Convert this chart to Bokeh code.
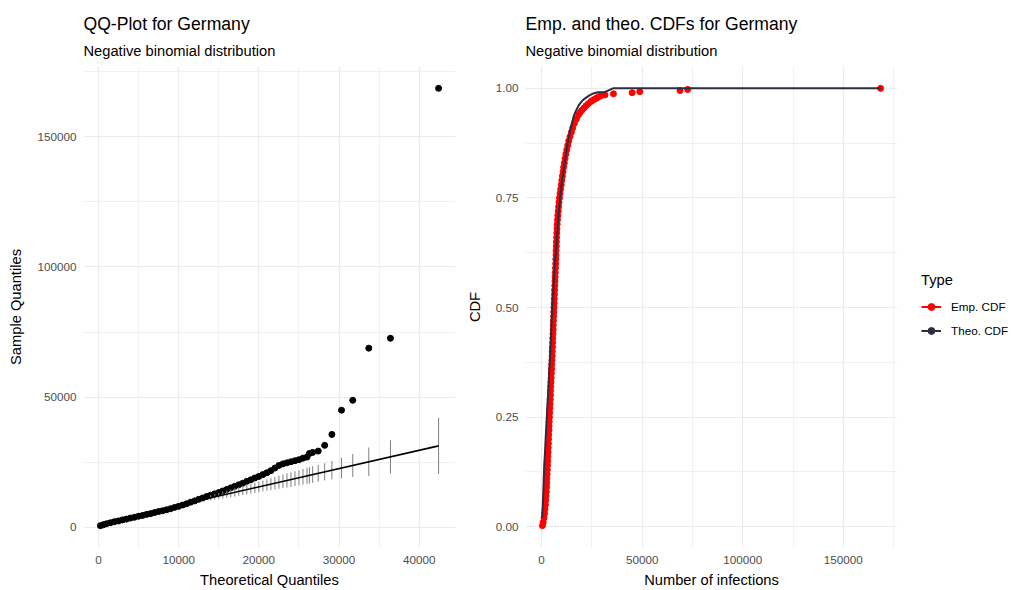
from bokeh.plotting import figure
from bokeh.models import (Range1d, FixedTicker, NumeralTickFormatter, Title,
                          Legend, LegendItem)
from bokeh.layouts import row
from bokeh.embed import file_html
from bokeh.resources import INLINE

FONT = "Liberation Sans"

# ---------------- QQ plot data ----------------
qq_theo = [250, 600, 1000, 1500, 2000, 2500, 3000, 3500, 4000, 4500, 5000, 5500,
           6000, 6500, 7000, 7500, 8000, 8500, 9000, 9500, 10000, 10500, 11000,
           11500, 12000, 12500, 13000, 13500, 14000, 14500, 15000, 15500, 16000,
           16500, 17000, 17500, 18000, 18500, 19000, 19500, 20000, 20500, 21000,
           21500, 22000, 22500, 23000, 23500, 24000, 24500, 25000, 25500, 26000,
           26300, 26700, 27400, 28200, 29100, 30300, 31700, 33700, 36400, 42400]
qq_sample = [700, 1000, 1400, 1800, 2200, 2500, 2900, 3200, 3600, 3900, 4300, 4600,
             5000, 5300, 5700, 6100, 6400, 6800, 7200, 7700, 8100, 8600, 9100,
             9700, 10200, 10800, 11300, 11900, 12400, 12900, 13400, 14000, 14600,
             15200, 15800, 16400, 17000, 17700, 18300, 19000, 19600, 20300, 21000,
             21800, 22800, 23800, 24400, 24800, 25200, 25600, 26000, 26600, 27000,
             28400, 28800, 29300, 31500, 35700, 45000, 48800, 68800, 72600, 168500]

qq_line_x = [250, 42400]
qq_line_y = [1715, 31305]

err_theo = [14000, 14500, 15000, 15500, 16000, 16500, 17000, 17500, 18000, 18500,
            19000, 19500, 20000, 20500, 21000, 21500, 22000, 22500, 23000, 23500,
            24000, 24500, 25000, 25500, 26000, 26300, 26700, 27400, 28200, 29100,
            30300, 31700, 33700, 36400, 42400]
err_lo = [10370, 10620, 10870, 11120, 11370, 11620, 11870, 12130, 12380, 12680,
          12980, 13280, 13580, 13830, 14080, 14330, 14580, 14840, 15090, 15340,
          15590, 15890, 16190, 16440, 16690, 16850, 17080, 17530, 18040, 18470,
          18810, 19390, 19700, 20690, 20500]
err_hi = [12370, 12820, 13270, 13720, 14170, 14620, 15070, 15530, 15980, 16380,
          16780, 17180, 17580, 18030, 18480, 18930, 19380, 19840, 20290, 20740,
          21190, 21590, 21990, 22440, 22890, 23150, 23480, 24030, 24640, 25470,
          26810, 28190, 30700, 33490, 42100]

# ---------------- CDF plot data ----------------
ecdf_y = [0.0025, 0.01, 0.02, 0.03, 0.04, 0.05, 0.06, 0.07, 0.08, 0.09, 0.10,
          0.11, 0.12, 0.13, 0.14, 0.15, 0.16, 0.17, 0.18, 0.19, 0.20, 0.21, 0.22,
          0.23, 0.24, 0.25, 0.26, 0.27, 0.28, 0.29, 0.30, 0.31, 0.32, 0.33, 0.34,
          0.35, 0.36, 0.37, 0.38, 0.39, 0.40, 0.41, 0.42, 0.43, 0.44, 0.45, 0.46,
          0.47, 0.48, 0.49, 0.50, 0.51, 0.52, 0.53, 0.54, 0.55, 0.56, 0.57, 0.58,
          0.59, 0.60, 0.61, 0.62, 0.63, 0.64, 0.65, 0.66, 0.67, 0.68, 0.69, 0.70,
          0.71, 0.72, 0.73, 0.74, 0.75, 0.76, 0.77, 0.78, 0.79, 0.80, 0.81, 0.82,
          0.83, 0.84, 0.85, 0.86, 0.87, 0.88, 0.89, 0.90, 0.91, 0.92, 0.93, 0.94,
          0.945, 0.95, 0.955, 0.96, 0.965, 0.97, 0.9725, 0.975, 0.9775, 0.98,
          0.9825, 0.985, 0.9875, 0.99, 0.9925, 0.995, 0.9975, 1.0]
ecdf_x = [400, 800, 1200, 1500, 1700, 1900, 2050, 2200, 2350, 2450, 2550,
          2650, 2750, 2850, 2950, 3000, 3100, 3200, 3250, 3350, 3450, 3550, 3650,
          3700, 3800, 3900, 4000, 4100, 4200, 4300, 4400, 4450, 4550, 4650, 4750,
          4850, 4950, 5050, 5150, 5250, 5300, 5400, 5500, 5550, 5650, 5750, 5800,
          5900, 6000, 6050, 6150, 6250, 6300, 6400, 6450, 6550, 6650, 6700, 6800,
          6900, 7000, 7050, 7150, 7200, 7300, 7350, 7450, 7550, 7650, 7750, 7900,
          8050, 8250, 8450, 8650, 8900, 9150, 9450, 9750, 10050, 10350, 10650, 10950,
          11300, 11650, 12050, 12500, 13000, 13500, 14100, 14800, 15500, 16300, 17300, 18400,
          19100, 20000, 21000, 22000, 23200, 24500, 25300, 26300, 27200, 28000,
          29300, 31500, 35700, 45000, 48800, 68800, 72600, 168500]

theo_cdf_x = [300, 700, 1000, 1300, 1700, 2000, 2400, 2800, 3300, 3700, 4100,
              4500, 4900, 5300, 5800, 6300, 6800, 7300, 8000, 8600, 9300, 10200,
              11300, 12100, 13000, 13800, 14500, 15300, 16000, 17000, 18300, 19500,
              21000, 22500, 23800, 26000, 28000, 31000, 33000, 35500, 168500]
theo_cdf_y = [0.02, 0.06, 0.10, 0.14, 0.17, 0.20, 0.235, 0.27, 0.31, 0.345, 0.38,
              0.415, 0.46, 0.50, 0.54, 0.58, 0.61, 0.64, 0.685, 0.72, 0.755, 0.79,
              0.825, 0.85, 0.875, 0.895, 0.91, 0.925, 0.937, 0.948, 0.96, 0.968,
              0.975, 0.98, 0.984, 0.989, 0.991, 0.991, 0.995, 1.0, 1.0]

# ticks
qq_xticks = [0, 10000, 20000, 30000, 40000]
qq_xminor = [5000, 15000, 25000, 35000]
qq_yticks = [0, 50000, 100000, 150000]
qq_yminor = [25000, 75000, 125000, 175000]
cdf_xticks = [0, 50000, 100000, 150000]
cdf_xminor = [25000, 75000, 125000, 175000]
cdf_yticks = [0, 0.25, 0.5, 0.75, 1.0]
cdf_yminor = [0.125, 0.375, 0.625, 0.875]

legend_title = "Type"
legend_labels = ["Emp. CDF", "Theo. CDF"]

RED = "#FF0000"
NAVY = "#2B2D42"


def expand(lo, hi, f=0.05):
    d = (hi - lo) * f
    return lo - d, hi + d


def style(p, xt, xm, yt, ym, xfmt, yfmt, xlabel, ylabel, title, subtitle):
    p.xaxis.ticker = FixedTicker(ticks=xt, minor_ticks=xm)
    p.yaxis.ticker = FixedTicker(ticks=yt, minor_ticks=ym)
    p.xaxis.formatter = NumeralTickFormatter(format=xfmt)
    p.yaxis.formatter = NumeralTickFormatter(format=yfmt)
    for ax in (p.xaxis[0], p.yaxis[0]):
        ax.axis_line_color = None
        ax.major_tick_line_color = None
        ax.minor_tick_line_color = None
        ax.major_tick_out = 0
        ax.major_tick_in = 0
        ax.minor_tick_out = 0
        ax.minor_tick_in = 0
        ax.major_label_text_font = FONT
        ax.major_label_text_font_size = "11.7px"
        ax.major_label_text_color = "#4D4D4D"
        ax.axis_label_text_font = FONT
        ax.axis_label_text_font_size = "14.7px"
        ax.axis_label_text_font_style = "normal"
        ax.axis_label_text_color = "#000000"
    p.xaxis.axis_label = xlabel
    p.yaxis.axis_label = ylabel
    p.xaxis.major_label_standoff = 8
    p.xaxis.axis_label_standoff = 5
    p.yaxis.major_label_standoff = 7
    p.yaxis.axis_label_standoff = 10
    for g in (p.xgrid[0], p.ygrid[0]):
        g.grid_line_color = "#EBEBEB"
        g.grid_line_width = 1.2
        g.minor_grid_line_color = "#EBEBEB"
        g.minor_grid_line_width = 0.7
    p.outline_line_color = None
    p.background_fill_color = "white"
    p.border_fill_color = "white"
    p.add_layout(Title(text=subtitle, text_font=FONT, text_font_size="14.7px",
                       text_font_style="normal", text_color="#000000",
                       standoff=15), "above")
    p.add_layout(Title(text=title, text_font=FONT, text_font_size="17.6px",
                       text_font_style="normal", text_color="#000000",
                       standoff=0), "above")


# ---------------- left: QQ plot ----------------
qx0, qx1 = expand(min(qq_theo), max(qq_theo))
qy0, qy1 = expand(min(qq_sample), max(qq_sample))
p1 = figure(frame_width=372, frame_height=481, min_border_left=83,
            min_border_right=8, min_border_top=66, min_border_bottom=43,
            x_range=Range1d(qx0, qx1), y_range=Range1d(qy0, qy1),
            output_backend="svg", toolbar_location=None, title=None)
style(p1, qq_xticks, qq_xminor, qq_yticks, qq_yminor, "0", "0",
      "Theoretical Quantiles", "Sample Quantiles",
      "QQ-Plot for Germany", "Negative binomial distribution")

p1.scatter(qq_theo, qq_sample, size=6, color="#000000")
p1.segment(x0=err_theo, y0=err_lo, x1=err_theo, y1=err_hi,
           line_color="#7F7F7F", line_width=1)
p1.line(qq_line_x, qq_line_y, line_color="#000000", line_width=1.6)

# ---------------- right: CDF plot ----------------
cx0, cx1 = expand(min(ecdf_x), max(ecdf_x))
cy0, cy1 = expand(min(ecdf_y), max(ecdf_y))
p2 = figure(frame_width=372, frame_height=481, min_border_left=54,
            min_border_right=0, min_border_top=66, min_border_bottom=43,
            x_range=Range1d(cx0, cx1), y_range=Range1d(cy0, cy1),
            output_backend="svg", toolbar_location=None, title=None)
style(p2, cdf_xticks, cdf_xminor, cdf_yticks, cdf_yminor, "0", "0.00",
      "Number of infections", "CDF",
      "Emp. and theo. CDFs for Germany", "Negative binomial distribution")

p2.scatter(ecdf_x, ecdf_y, size=6, color=RED)
p2.line(theo_cdf_x, theo_cdf_y, line_color=NAVY, line_width=2)

# ---------------- legend panel ----------------
p3 = figure(width=125, height=590, min_border=0,
            x_range=Range1d(0, 1), y_range=Range1d(0, 1),
            x_axis_location=None, y_axis_location=None,
            output_backend="svg", toolbar_location=None, title=None)
p3.grid.visible = False
p3.outline_line_color = None
p3.background_fill_color = "white"
p3.border_fill_color = "white"
# legend key glyphs (kept outside the visible range of this blank panel)
k_emp_l = p3.line([5, 6], [5, 5], line_color=RED, line_width=2)
k_emp_p = p3.scatter([5.5], [5], size=6, color=RED)
k_theo_l = p3.line([5, 6], [5, 5], line_color=NAVY, line_width=2)
k_theo_p = p3.scatter([5.5], [5], size=6, color=NAVY)

legend = Legend(items=[LegendItem(label=legend_labels[0], renderers=[k_emp_l, k_emp_p]),
                       LegendItem(label=legend_labels[1], renderers=[k_theo_l, k_theo_p])],
                title=legend_title, location=(24, 208),
                title_text_font=FONT, title_text_font_size="14.7px",
                title_text_font_style="normal", title_text_color="#000000",
                title_standoff=10,
                label_text_font=FONT, label_text_font_size="11.7px",
                label_text_color="#000000",
                glyph_width=20, glyph_height=17, label_height=17,
                label_standoff=10, spacing=7, padding=8, margin=0,
                border_line_color=None, background_fill_alpha=0)
p3.add_layout(legend, "center")

layout = row(p1, p2, p3, spacing=0)
open("out.html", "w").write(file_html(layout, INLINE))
